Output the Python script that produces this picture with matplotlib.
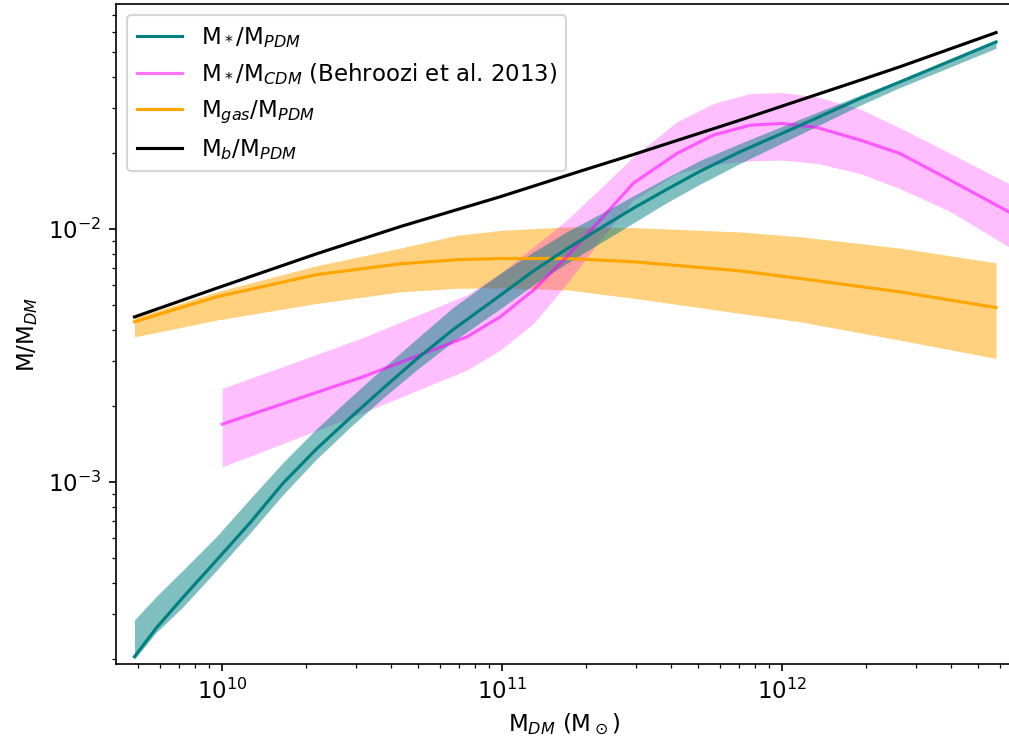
import matplotlib
matplotlib.use('Agg')
import matplotlib.pyplot as plt
import numpy as np

plt.rcParams['font.size'] = 11

# log10(M_DM / Msun) and log10 of the mass ratios
# stellar / PDM
lm_star = [9.687, 9.764, 9.860, 9.979, 10.098, 10.217, 10.336, 10.455, 10.574, 10.693, 10.824,
           10.993, 11.112, 11.231, 11.35, 11.469, 11.588, 11.707, 11.85, 12.064, 12.279, 12.421, 12.764]
star = [-3.690, -3.578, -3.456, -3.310, -3.163, -3.005, -2.870, -2.748, -2.630, -2.515, -2.398,
        -2.262, -2.165, -2.078, -1.997, -1.917, -1.843, -1.771, -1.694, -1.59, -1.483, -1.418, -1.260]
star_hi = [-3.545, -3.453, -3.348, -3.216, -3.068, -2.923, -2.79, -2.668, -2.55, -2.435, -2.31,
           -2.175, -2.09, -2.01, -1.94, -1.868, -1.796, -1.728, -1.661, -1.565, -1.47, -1.41, -1.255]
star_lo = [-3.70, -3.595, -3.493, -3.35, -3.203, -3.05, -2.91, -2.785, -2.668, -2.558, -2.445,
           -2.315, -2.22, -2.135, -2.055, -1.975, -1.895, -1.822, -1.74, -1.625, -1.51, -1.44, -1.285]

# stellar / CDM (Behroozi et al. 2013)
lm_b13 = [10.0, 10.5, 10.874, 10.993, 11.112, 11.231, 11.35, 11.469, 11.624, 11.755, 11.886,
          12.0, 12.124, 12.279, 12.421, 12.6, 12.81, 13.0]
b13 = [-2.771, -2.585, -2.426, -2.347, -2.241, -2.109, -1.964, -1.818, -1.701, -1.628, -1.589,
       -1.582, -1.598, -1.648, -1.701, -1.806, -1.932, -2.06]
b13_hi = [-2.630, -2.43, -2.26, -2.175, -2.07, -1.964, -1.84, -1.714, -1.576, -1.503, -1.464,
          -1.46, -1.477, -1.525, -1.60, -1.70, -1.82, -1.95]
b13_lo = [-2.94, -2.727, -2.557, -2.478, -2.373, -2.215, -2.043, -1.885, -1.78, -1.745, -1.73,
          -1.727, -1.74, -1.78, -1.84, -1.93, -2.07, -2.2]

# gas / PDM
lm_gas = [9.687, 9.979, 10.336, 10.636, 10.836, 10.993, 11.231, 11.469, 11.85, 12.064, 12.421, 12.764]
gas = [-2.366, -2.268, -2.180, -2.137, -2.121, -2.116, -2.116, -2.129, -2.165, -2.195, -2.248, -2.31]
gas_hi = [-2.35, -2.248, -2.145, -2.075, -2.025, -2.005, -1.991, -1.994, -2.011, -2.03, -2.075, -2.133]
gas_lo = [-2.426, -2.36, -2.294, -2.248, -2.234, -2.232, -2.24, -2.273, -2.333, -2.366, -2.439, -2.511]

# baryons / PDM
lm_bar = [9.687, 9.979, 10.336, 10.636, 10.993, 11.29, 11.469, 11.85, 12.064, 12.279, 12.421, 12.764]
bar = [-2.347, -2.234, -2.098, -1.99, -1.872, -1.767, -1.705, -1.569, -1.49, -1.411, -1.358, -1.223]

p = lambda a: 10 ** np.array(a)

fig = plt.figure(figsize=(1009 / 150, 742 / 150), dpi=150)
ax = fig.add_axes([116 / 1009, 78 / 742, 896 / 1009, 660 / 742])
ax.set_xscale('log')
ax.set_yscale('log')

# bands (drawing order gives the overlap colours)
ax.fill_between(p(lm_gas), p(gas_lo), p(gas_hi), color='orange', alpha=0.5, lw=0)
l_gas, = ax.plot(p(lm_gas), p(gas), color='orange', lw=1.5)
ax.fill_between(p(lm_b13), p(b13_lo), p(b13_hi), color='magenta', alpha=0.25, lw=0)
l_b13, = ax.plot(p(lm_b13), p(b13), color='magenta', alpha=0.55, lw=1.5)
ax.fill_between(p(lm_star), p(star_lo), p(star_hi), color='teal', alpha=0.5, lw=0)
l_star, = ax.plot(p(lm_star), p(star), color='teal', lw=1.5)
l_bar, = ax.plot(p(lm_bar), p(bar), color='black', lw=1.5)

ax.set_xlim(10 ** 9.621, 10 ** 12.821)
ax.set_ylim(10 ** -3.719, 10 ** -1.110)

ax.set_xlabel(r'M$_{DM}$ (M$_\odot$)')
ax.set_ylabel(r'M/M$_{DM}$')

ax.legend([l_star, l_b13, l_gas, l_bar],
          [r'M$_*$/M$_{PDM}$', r'M$_*$/M$_{CDM}$ (Behroozi et al. 2013)',
           r'M$_{gas}$/M$_{PDM}$', r'M$_b$/M$_{PDM}$'],
          loc='upper left')

fig.savefig('out.png', dpi=150)
